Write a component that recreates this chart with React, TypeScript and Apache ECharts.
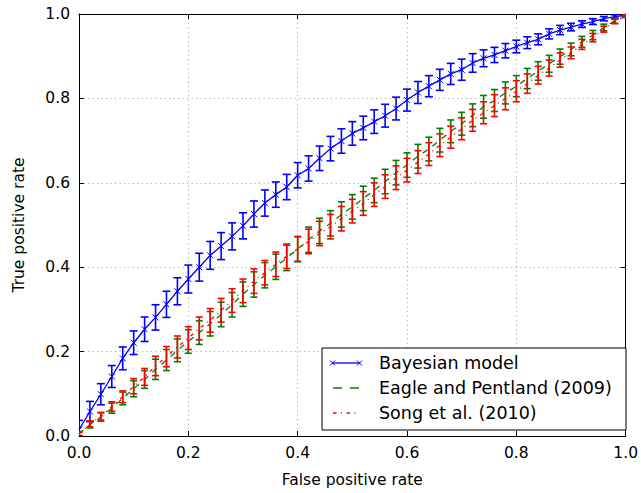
import React, { useEffect, useRef } from "react";
import * as echarts from "echarts";

const fpr = [
  0.0, 0.02, 0.04, 0.06, 0.08, 0.1, 0.12, 0.14, 0.16, 0.18, 0.2, 0.22, 0.24, 0.26, 0.28, 0.3, 0.32,
  0.34, 0.36, 0.38, 0.4, 0.42, 0.44, 0.46, 0.48, 0.5, 0.52, 0.54, 0.56, 0.58, 0.6, 0.62, 0.64, 0.66,
  0.68, 0.7, 0.72, 0.74, 0.76, 0.78, 0.8, 0.82, 0.84, 0.86, 0.88, 0.9, 0.92, 0.94, 0.96, 0.98, 1.0,
];

const bayesTPR = [
  0.015, 0.058, 0.099, 0.141, 0.184, 0.221, 0.253, 0.281, 0.312, 0.343, 0.372, 0.4, 0.428, 0.45,
  0.473, 0.498, 0.526, 0.552, 0.572, 0.59, 0.618, 0.634, 0.658, 0.681, 0.699, 0.717, 0.73, 0.745,
  0.759, 0.776, 0.796, 0.814, 0.829, 0.844, 0.858, 0.868, 0.884, 0.895, 0.903, 0.913, 0.923, 0.932,
  0.94, 0.953, 0.962, 0.969, 0.976, 0.982, 0.989, 0.994, 0.997,
];
const bayesErr = [
  0.022, 0.024, 0.025, 0.026, 0.027, 0.028, 0.029, 0.03, 0.031, 0.032, 0.033, 0.033, 0.033, 0.032,
  0.032, 0.031, 0.031, 0.031, 0.03, 0.03, 0.03, 0.03, 0.029, 0.029, 0.029, 0.028, 0.028, 0.028,
  0.027, 0.027, 0.026, 0.026, 0.025, 0.025, 0.025, 0.025, 0.022, 0.02, 0.018, 0.017, 0.015, 0.014,
  0.013, 0.012, 0.011, 0.009, 0.008, 0.007, 0.005, 0.004, 0.003,
];

const eagleTPR = [
  0.005, 0.027, 0.045, 0.066, 0.089, 0.112, 0.134, 0.158, 0.18, 0.203, 0.224, 0.245, 0.266, 0.288,
  0.311, 0.336, 0.359, 0.381, 0.401, 0.422, 0.443, 0.465, 0.486, 0.504, 0.525, 0.543, 0.563, 0.582,
  0.603, 0.624, 0.642, 0.663, 0.68, 0.701, 0.722, 0.74, 0.76, 0.78, 0.795, 0.813, 0.829, 0.847,
  0.865, 0.882, 0.899, 0.916, 0.934, 0.95, 0.968, 0.984, 0.995,
];
const eagleErr = [
  0.004, 0.008, 0.01, 0.012, 0.015, 0.019, 0.021, 0.024, 0.025, 0.027, 0.028, 0.028, 0.029, 0.029,
  0.029, 0.029, 0.03, 0.03, 0.03, 0.03, 0.03, 0.03, 0.03, 0.03, 0.03, 0.029, 0.029, 0.029, 0.029,
  0.029, 0.029, 0.028, 0.028, 0.028, 0.027, 0.027, 0.027, 0.027, 0.026, 0.026, 0.025, 0.024, 0.022,
  0.02, 0.018, 0.015, 0.013, 0.011, 0.008, 0.006, 0.003,
];

const songTPR = [
  0.005, 0.029, 0.047, 0.07, 0.093, 0.118, 0.14, 0.166, 0.188, 0.211, 0.232, 0.255, 0.274, 0.298,
  0.321, 0.344, 0.367, 0.387, 0.407, 0.426, 0.443, 0.461, 0.48, 0.496, 0.515, 0.533, 0.551, 0.572,
  0.591, 0.612, 0.63, 0.649, 0.668, 0.689, 0.708, 0.728, 0.748, 0.766, 0.783, 0.799, 0.817, 0.835,
  0.855, 0.872, 0.891, 0.908, 0.928, 0.944, 0.964, 0.982, 0.995,
];
const songErr = [
  0.004, 0.007, 0.009, 0.011, 0.014, 0.018, 0.02, 0.023, 0.024, 0.026, 0.027, 0.027, 0.028, 0.028,
  0.028, 0.028, 0.029, 0.029, 0.029, 0.029, 0.029, 0.029, 0.029, 0.029, 0.029, 0.028, 0.028, 0.028,
  0.028, 0.028, 0.028, 0.027, 0.027, 0.027, 0.026, 0.026, 0.026, 0.026, 0.026, 0.026, 0.025, 0.023,
  0.021, 0.019, 0.017, 0.014, 0.012, 0.01, 0.007, 0.005, 0.003,
];

const legendNames = ["Bayesian model", "Eagle and Pentland (2009)", "Song et al. (2010)"];

const BLUE = "#0000ff";
const GREEN = "#008000";
const RED = "#ff0000";
const FONT = "'DejaVu Sans', sans-serif";

function errSeries(name: string, ys: number[], errs: number[], color: string, cap: number, withX: boolean, z: number) {
  return {
    type: "custom",
    name,
    z,
    clip: true,
    data: fpr.map((x, i) => [x, ys[i], errs[i]]),
    encode: { x: 0, y: 1 },
    renderItem: (_p: any, api: any) => {
      const x = api.value(0);
      const y = api.value(1);
      const e = api.value(2);
      const t = api.coord([x, y + e]);
      const b = api.coord([x, y - e]);
      const c = api.coord([x, y]);
      const st = { stroke: color, lineWidth: 1.6, fill: "none" };
      const children: any[] = [
        { type: "line", shape: { x1: t[0], y1: t[1], x2: b[0], y2: b[1] }, style: st },
        { type: "line", shape: { x1: t[0] - cap, y1: t[1], x2: t[0] + cap, y2: t[1] }, style: st },
        { type: "line", shape: { x1: b[0] - cap, y1: b[1], x2: b[0] + cap, y2: b[1] }, style: st },
      ];
      if (withX) {
        const m = 3;
        children.push({ type: "line", shape: { x1: c[0] - m, y1: c[1] - m, x2: c[0] + m, y2: c[1] + m }, style: { stroke: color, lineWidth: 1 } });
        children.push({ type: "line", shape: { x1: c[0] - m, y1: c[1] + m, x2: c[0] + m, y2: c[1] - m }, style: { stroke: color, lineWidth: 1 } });
      }
      return { type: "group", children };
    },
  };
}

export default function App() {
  const ref = useRef<HTMLDivElement>(null);
  useEffect(() => {
    const chart = echarts.init(ref.current!, null, { renderer: "svg" });
    const axisLine = { show: true, onZero: false, lineStyle: { color: "#000", width: 1 } };
    const tick = { show: true, inside: true, length: 5, lineStyle: { color: "#000", width: 1 } };
    const split = { show: true, lineStyle: { color: "#aaaaaa", width: 1, type: [1.2, 3.3] } };
    const lbl = { fontFamily: FONT, fontSize: 15.5, color: "#000", margin: 9, formatter: (v: number) => v.toFixed(1) };

    const lx = 322, ly = 348, lw = 304, lh = 82;
    const rows = [363, 388, 413];
    const legend: any[] = [
      { type: "rect", shape: { x: lx, y: ly, width: lw, height: lh }, style: { fill: "#fff", stroke: "#000", lineWidth: 1 }, z: 100 },
      { type: "line", shape: { x1: 332, y1: rows[0], x2: 360, y2: rows[0] }, style: { stroke: BLUE, lineWidth: 1.3 }, z: 101 },
      { type: "line", shape: { x1: 330, y1: rows[0] - 2.5, x2: 335, y2: rows[0] + 2.5 }, style: { stroke: BLUE, lineWidth: 1 }, z: 101 },
      { type: "line", shape: { x1: 330, y1: rows[0] + 2.5, x2: 335, y2: rows[0] - 2.5 }, style: { stroke: BLUE, lineWidth: 1 }, z: 101 },
      { type: "line", shape: { x1: 357, y1: rows[0] - 2.5, x2: 362, y2: rows[0] + 2.5 }, style: { stroke: BLUE, lineWidth: 1 }, z: 101 },
      { type: "line", shape: { x1: 357, y1: rows[0] + 2.5, x2: 362, y2: rows[0] - 2.5 }, style: { stroke: BLUE, lineWidth: 1 }, z: 101 },
      { type: "line", shape: { x1: 333, y1: rows[1], x2: 360, y2: rows[1] }, style: { stroke: GREEN, lineWidth: 1.3, lineDash: [9, 8] }, z: 101 },
      { type: "line", shape: { x1: 333, y1: rows[2], x2: 360, y2: rows[2] }, style: { stroke: RED, lineWidth: 1.3, lineDash: [3.5, 4.5, 1, 4.5] }, z: 101 },
    ];
    legendNames.forEach((n, i) => {
      legend.push({
        type: "text",
        x: 379,
        y: rows[i],
        style: { text: n, fontFamily: FONT, fontSize: 17.5, fill: "#000", verticalAlign: "middle", textAlign: "left" },
        z: 101,
      });
    });

    chart.setOption({
      animation: false,
      backgroundColor: "#fff",
      grid: { left: 79, right: 13, top: 14, bottom: 55, containLabel: false },
      xAxis: [
        {
          type: "value", min: 0, max: 1, interval: 0.2, position: "bottom",
          name: "False positive rate", nameLocation: "middle", nameGap: 36,
          nameTextStyle: { fontFamily: FONT, fontSize: 15.5, color: "#000" },
          axisLine, axisTick: tick, splitLine: split, axisLabel: lbl,
        },
        {
          type: "value", min: 0, max: 1, interval: 0.2, position: "top",
          axisLine, axisTick: tick, splitLine: { show: false }, axisLabel: { show: false },
        },
      ],
      yAxis: [
        {
          type: "value", min: 0, max: 1, interval: 0.2, position: "left",
          name: "True positive rate", nameLocation: "middle", nameGap: 52,
          nameTextStyle: { fontFamily: FONT, fontSize: 15.5, color: "#000" },
          axisLine, axisTick: tick, splitLine: split, axisLabel: lbl,
        },
        {
          type: "value", min: 0, max: 1, interval: 0.2, position: "right",
          axisLine, axisTick: tick, splitLine: { show: false }, axisLabel: { show: false },
        },
      ],
      graphic: legend,
      series: [
        {
          type: "line", name: legendNames[0], data: fpr.map((x, i) => [x, bayesTPR[i]]),
          symbol: "none", lineStyle: { color: BLUE, width: 1.3 }, z: 2,
        },
        errSeries("bayesErr", bayesTPR, bayesErr, BLUE, 4, true, 3),
        {
          type: "line", name: legendNames[1], data: fpr.map((x, i) => [x, eagleTPR[i]]),
          symbol: "none", lineStyle: { color: GREEN, width: 1.3, type: [6, 6] }, z: 4,
        },
        errSeries("eagleErr", eagleTPR, eagleErr, GREEN, 3.5, false, 5),
        {
          type: "line", name: legendNames[2], data: fpr.map((x, i) => [x, songTPR[i]]),
          symbol: "none", lineStyle: { color: RED, width: 1.3, type: [3.5, 4.5, 1, 4.5] }, z: 6,
        },
        errSeries("songErr", songTPR, songErr, RED, 3.5, false, 7),
      ],
    });
    return () => chart.dispose();
  }, []);
  return <div ref={ref} style={{ position: "fixed", left: 0, top: 0, width: 641, height: 493 }} />;
}
